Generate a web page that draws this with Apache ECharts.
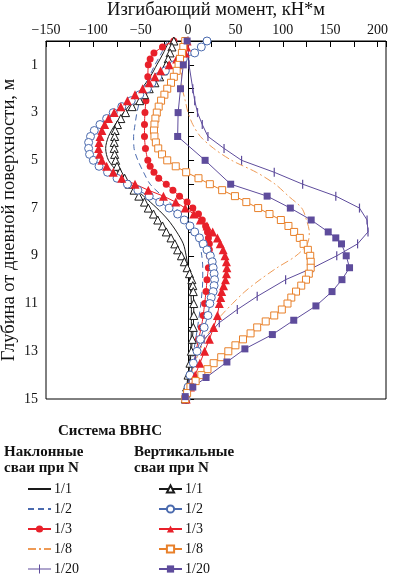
<!DOCTYPE html>
<html><head><meta charset="utf-8">
<script src="https://cdn.jsdelivr.net/npm/echarts@6/dist/echarts.min.js"></script>
<style>html,body{margin:0;padding:0;background:#fff}#c{width:393px;height:576px}</style>
</head><body><div id="c"></div>
<script>
// Pairs: [bending moment kN*m, depth m]
const inclined_1_1 = [[-20,0],[-26,0.5],[-33,1],[-40,1.5],[-49,2],[-58,2.5],[-68,3],[-77,3.5],[-84,4],[-87,4.5],[-84,5],[-74,5.5],[-61,6],[-47,6.5],[-33,7],[-21,7.5],[-12,8],[-5,8.5],[-2,9],[0,9.5],[1.5,10],[3.5,11],[3.5,12],[2.5,13],[0.5,14],[-2,15]];
const inclined_1_2 = [[-22,0],[-28,0.5],[-35,1],[-41,1.5],[-47,2],[-51,2.5],[-54,3],[-56,3.5],[-57.5,4],[-57,4.5],[-53,5],[-47,5.5],[-40,6],[-27,6.5],[-13,7],[-3,7.5],[6,8],[12,8.5],[14.5,9],[15.5,9.5],[15.5,10],[13.5,11],[10,12],[6,13],[2,14],[-2,15]];
const inclined_1_3 = [[-15,0],[-27,0.25],[-36,0.5],[-40,0.75],[-42,1],[-42.5,1.5],[-43,2],[-44.5,2.5],[-45.5,3],[-46,3.5],[-46,4],[-45,4.5],[-42.5,5],[-40,5.25],[-36,5.5],[-31,5.75],[-23,6],[-16,6.25],[-9,6.5],[-1,6.75],[5,7],[11,7.25],[15,7.5],[18.5,7.75],[20.5,8],[21.5,8.25],[22.5,8.5],[22.5,8.75],[22.5,9],[21.5,9.5],[20,10],[19,10.5],[17.5,11],[16,11.5],[14,12],[11,12.5],[8.5,13],[6,13.5],[2.5,14],[0,14.5],[-2,15]];
const inclined_1_8 = [[-2,0],[-4,0.5],[-6,1],[-7,1.5],[-6,2],[-3,2.5],[0,3],[5,3.5],[13,4],[27,4.5],[46,5],[72,5.5],[92,6],[106,6.5],[120,7],[125,7.5],[128,8],[126,8.5],[114,9],[94,9.5],[76,10],[60,10.5],[47,11],[35,11.5],[25,12],[18,12.5],[12,13],[7,13.5],[3,14],[0,14.5],[-2,15]];
const inclined_1_20 = [[0,0],[1,1],[5,2],[7,2.5],[10,3],[15,3.5],[21,4],[38,4.5],[56.5,5],[91,5.5],[121,6],[156,6.5],[181,7],[189,7.5],[190,8],[179,8.5],[157,9],[132,9.5],[103,10],[73,10.7],[52,11.25],[33,11.8],[17,12.5],[8,13.2],[2,14],[-2,15]];

const vertical_1_1 = [[-15,0],[-17,0.25],[-19,0.5],[-21,0.75],[-23,1],[-26,1.25],[-30,1.5],[-35,1.75],[-41,2],[-46,2.25],[-51,2.5],[-59,2.75],[-66,3],[-71,3.25],[-74.5,3.5],[-77,3.75],[-77.5,4],[-78,4.25],[-78,4.5],[-77.5,4.75],[-76.5,5],[-75,5.25],[-72,5.5],[-67,5.75],[-62,6],[-57,6.25],[-52,6.5],[-46,6.75],[-42,7],[-36.5,7.25],[-32,7.5],[-27,7.75],[-23,8],[-18,8.25],[-14,8.5],[-11,8.75],[-7,9],[-4,9.25],[-1,9.5],[1.5,9.75],[4,10],[5,10.25],[5.5,10.5],[6,11],[6,11.5],[5.5,12],[4.5,12.5],[3.5,13],[2,13.5],[0,14],[-1.5,14.5],[-3,15]];
const vertical_1_2 = [[20,0],[14,0.25],[7,0.5],[-5,0.75],[-15,1],[-24,1.25],[-32,1.5],[-38,1.75],[-43,2],[-51,2.25],[-60,2.5],[-70,2.75],[-79,3],[-86,3.25],[-93,3.5],[-99,3.75],[-103,4],[-105,4.25],[-105,4.5],[-104,4.75],[-100,5],[-94,5.25],[-85,5.5],[-75,5.75],[-64,6],[-53,6.25],[-41,6.5],[-30,6.75],[-20,7],[-11,7.25],[-4,7.5],[2,7.75],[7,8],[12,8.25],[16,8.5],[20,8.75],[23.5,9],[25.5,9.25],[26.5,9.5],[27.5,9.75],[28,10],[27.5,10.25],[26.5,10.5],[24.5,10.75],[23,11],[21,11.5],[17,12],[13,12.5],[9.5,13],[5.6,13.5],[2,14],[0,14.5],[-2,15]];
const vertical_1_3 = [[-1,0],[-1.5,0.25],[-3,0.5],[-12,0.75],[-20,1],[-29,1.25],[-35,1.5],[-41,1.75],[-48,2],[-56,2.25],[-64,2.5],[-71,2.75],[-78,3],[-84,3.25],[-88,3.5],[-91,3.75],[-93,4],[-94,4.25],[-94.5,4.5],[-93.5,4.75],[-91,5],[-86,5.25],[-79,5.5],[-70,5.75],[-56,6],[-42,6.25],[-26,6.5],[-13,6.75],[-3,7],[6,7.25],[13,7.5],[20,7.75],[26,8],[31,8.25],[34,8.5],[37,8.75],[39,9],[40.5,9.25],[41,9.5],[40.5,9.75],[39.5,10],[37.5,10.25],[35.5,10.5],[34.5,10.75],[33,11],[31,11.5],[27,12],[22.5,12.5],[17.5,13],[12.5,13.5],[7.5,14],[2.5,14.5],[-2,15]];
const vertical_1_8 = [[-3,0],[-5,0.25],[-6.5,0.5],[-8.5,0.75],[-10,1],[-12,1.25],[-15,1.5],[-18,1.75],[-22,2],[-25,2.25],[-28.5,2.5],[-31,2.75],[-33,3],[-34.5,3.25],[-35.5,3.5],[-36,3.75],[-35.5,4],[-34,4.25],[-31.5,4.5],[-27.5,4.75],[-22,5],[-13,5.25],[-2,5.5],[11,5.75],[23,6],[36,6.25],[49.5,6.5],[61.5,6.75],[74,7],[86,7.25],[98,7.5],[106,7.75],[112,8],[118,8.25],[122,8.5],[126.5,8.75],[129,9],[129.5,9.25],[129.5,9.5],[127.5,9.75],[124.5,10],[119.5,10.25],[114,10.5],[109,10.75],[105,11],[99,11.25],[91,11.5],[82,11.75],[73,12],[66,12.25],[58,12.5],[50,12.75],[42.5,13],[35,13.25],[27,13.5],[20.5,13.75],[14,14],[8,14.25],[2.5,14.5],[-1,14.75],[-3,15]];
const vertical_1_20 = [[-1,0],[-5,1],[-8,2],[-10.5,3],[-11,4],[18,5],[45,6],[83.5,6.5],[108,7],[130,7.5],[148,8],[156,8.25],[162,8.5],[167,9],[170.5,9.5],[162.5,10],[152,10.5],[135,11.1],[111.6,11.7],[89,12.3],[60,12.9],[41,13.45],[19,14.1],[5,14.5],[-3,14.9]];

const xTickValues = [-150,-100,-50,0,50,100,150,200];
const yTickValues = [1,3,5,7,9,11,13,15];

const SERIF = 'Liberation Serif';
const C_BLACK = '#1a1a1a', C_BLUE = '#4a6aae', C_RED = '#e8202a', C_ORANGE = '#e8802a', C_ORANGE2 = '#ee9a55', C_PURPLE = '#5e4c9c';

function line(name, data, color, opts) {
  return Object.assign({
    name, type: 'line', data, smooth: 0.3,
    symbol: 'none',
    lineStyle: {color, width: 1},
    itemStyle: {color},
    emphasis: {disabled: true}
  }, opts || {});
}

const series = [
  line('Н 1/1', inclined_1_1, C_BLACK),
  line('Н 1/2', inclined_1_2, C_BLUE, {lineStyle: {color: C_BLUE, width: 1, type: [6, 4]}}),
  line('Н 1/3', inclined_1_3, C_RED, {smooth: 0.2, symbol: 'circle', symbolSize: 7, lineStyle: {color: C_RED, width: 1}, itemStyle: {color: C_RED}}),
  line('Н 1/8', inclined_1_8, C_ORANGE2, {lineStyle: {color: C_ORANGE2, width: 1, type: [8, 3, 2, 3]}}),
  line('Н 1/20', inclined_1_20, C_PURPLE, {smooth: false, symbol: 'rect', symbolSize: [1.2, 9], itemStyle: {color: C_PURPLE}}),
  line('В 1/1', vertical_1_1, C_BLACK, {smooth: false, symbol: 'triangle', symbolSize: 8, itemStyle: {color: '#fff', borderColor: C_BLACK, borderWidth: 1}}),
  line('В 1/2', vertical_1_2, C_BLUE, {smooth: false, symbol: 'circle', symbolSize: 8, itemStyle: {color: '#fff', borderColor: C_BLUE, borderWidth: 1}}),
  line('В 1/3', vertical_1_3, C_RED, {smooth: false, symbol: 'triangle', symbolSize: 9, itemStyle: {color: C_RED}}),
  line('В 1/8', vertical_1_8, C_ORANGE, {smooth: false, symbol: 'rect', symbolSize: 7, itemStyle: {color: '#fff', borderColor: C_ORANGE, borderWidth: 1}}),
  line('В 1/20', vertical_1_20, C_PURPLE, {smooth: false, symbol: 'rect', symbolSize: 7, itemStyle: {color: C_PURPLE}})
];

const noMarker = {opacity: 0};
const legendLeftData = [
  {name: 'Н 1/1', itemStyle: noMarker},
  {name: 'Н 1/2', itemStyle: noMarker},
  {name: 'Н 1/3'},
  {name: 'Н 1/8', itemStyle: noMarker},
  {name: 'Н 1/20', icon: 'path://M0,4h23v1h-23z M11,0h1v9h-1z'}
];
const legendRightData = ['В 1/1', 'В 1/2', 'В 1/3', 'В 1/8', 'В 1/20'];

const legendCommon = {
  orient: 'vertical', top: 482, padding: 0, height: 100, itemWidth: 23, itemHeight: 9, itemGap: 6,
  selectedMode: false,
  textStyle: {fontFamily: SERIF, fontSize: 14, color: '#111', padding: [0,0,0,-2]},
  formatter: n => n.slice(2)
};

const chart = echarts.init(document.getElementById('c'));
chart.setOption({
  animation: false,
  backgroundColor: '#fff',
  title: [
    {text: 'Система ВВНС', left: 58, top: 424, padding: 0, textStyle: {fontFamily: SERIF, fontWeight: 'bold', fontSize: 15, color: '#111'}},
    {text: 'Наклонные\nсваи при N', left: 4, top: 444, padding: 0, textStyle: {fontFamily: SERIF, fontWeight: 'bold', fontSize: 15, lineHeight: 16, color: '#111'}},
    {text: 'Вертикальные\nсваи при N', left: 134, top: 444, padding: 0, textStyle: {fontFamily: SERIF, fontWeight: 'bold', fontSize: 15, lineHeight: 16, color: '#111'}}
  ],
  legend: [
    Object.assign({left: 27, data: legendLeftData}, legendCommon),
    Object.assign({left: 158, data: legendRightData}, legendCommon)
  ],
  grid: {left: 46, right: 7, top: 41, bottom: 177, show: true, borderColor: '#000', borderWidth: 1,
    containLabel: false, outerBoundsMode: 'none'},
  xAxis: {
    type: 'value', position: 'top', min: -150, max: 209, interval: 25,
    name: 'Изгибающий момент, кН*м', nameLocation: 'middle', nameGap: 21, nameMoveOverlap: false,
    nameTextStyle: {fontFamily: SERIF, fontSize: 18.5, color: '#111'},
    axisLine: {show: true, lineStyle: {color: '#000', width: 1}},
    axisTick: {show: true, inside: true, length: 6, lineStyle: {color: '#000'}},
    axisLabel: {fontFamily: SERIF, fontSize: 14, color: '#111', margin: 4,
      formatter: v => xTickValues.includes(v) ? String(v).replace('-', '\u2212') : ''},
    splitLine: {show: false}
  },
  yAxis: {
    type: 'value', inverse: true, min: 0, max: 15, interval: 1,
    name: 'Глубина от дневной поверхности, м', nameLocation: 'middle', nameGap: 27, nameMoveOverlap: false,
    nameTextStyle: {fontFamily: SERIF, fontSize: 18.5, color: '#111'},
    axisLine: {show: true, lineStyle: {color: '#000', width: 1}},
    axisTick: {show: true, inside: true, length: 6, lineStyle: {color: '#000'}},
    axisLabel: {fontFamily: SERIF, fontSize: 14, color: '#111', margin: 8,
      formatter: v => yTickValues.includes(v) ? String(v) : ''},
    splitLine: {show: false}
  },
  series
});
</script></body></html>
